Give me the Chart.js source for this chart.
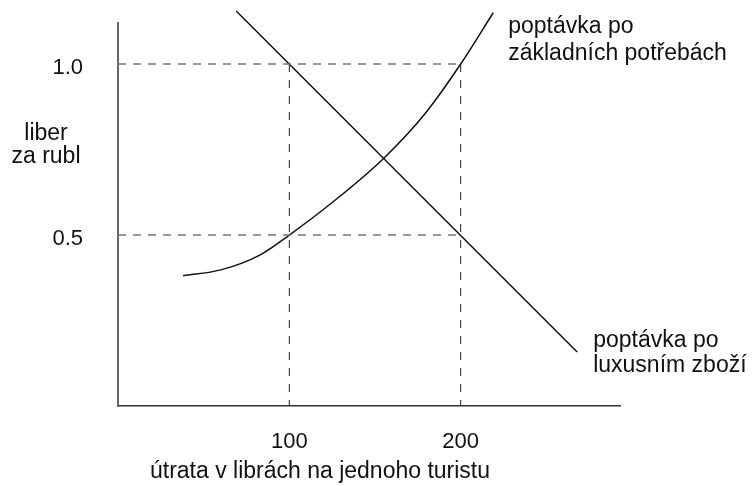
<!DOCTYPE html>
<html>
<head>
<meta charset="utf-8">
<script src="https://cdn.jsdelivr.net/npm/chart.js@4.4.0/dist/chart.umd.min.js"></script>
<style>
  body { margin: 0; background: #fff; }
  #wrap { width: 754px; height: 486px; }
</style>
</head>
<body>
<div id="wrap"><canvas id="demandChart" width="754" height="486"></canvas></div>
<script>
// axis ticks
var xTicks = [100, 200];
var yTicks = [0.5, 1.0];

// demand for luxury goods (straight line)
var luxuryX = [69, 268];
var luxuryY = [1.155, 0.158];

// demand for basic necessities (curve)
var basicX = [38, 60, 83, 100, 125, 155, 180, 200, 219];
var basicY = [0.381, 0.398, 0.442, 0.5, 0.595, 0.724, 0.86, 1.0, 1.15];

var xTitle = "útrata v librách na jednoho turistu";
var yTitle = ["liber", "za rubl"];
var basicLabel = ["poptávka po", "základních potřebách"];
var luxuryLabel = ["poptávka po", "luxusním zboží"];

var FONT = '"Liberation Sans", Arial, Helvetica, sans-serif';

function toPoints(xs, ys) {
  return xs.map(function (x, i) { return { x: x, y: ys[i] }; });
}

var lastX = xTicks[xTicks.length - 1];
var topY = yTicks[yTicks.length - 1];

var datasets = [];
// dashed guides
yTicks.forEach(function (v) {
  datasets.push({
    data: [{ x: 0, y: v }, { x: lastX, y: v }],
    borderColor: '#777', borderWidth: 1.5, borderDash: [8, 7],
    pointRadius: 0, showLine: true, tension: 0
  });
});
xTicks.forEach(function (v) {
  datasets.push({
    data: [{ x: v, y: topY }, { x: v, y: 0 }],
    borderColor: '#222', borderWidth: 1, borderDash: [8, 8],
    pointRadius: 0, showLine: true, tension: 0
  });
});
datasets.push({
  data: toPoints(luxuryX, luxuryY),
  borderColor: '#111', borderWidth: 1.5,
  pointRadius: 0, showLine: true, tension: 0, clip: false
});
datasets.push({
  data: toPoints(basicX, basicY),
  borderColor: '#111', borderWidth: 1.5,
  pointRadius: 0, showLine: true, cubicInterpolationMode: 'monotone', clip: false
});

var textPlugin = {
  id: 'texts',
  afterDraw: function (chart) {
    var ctx = chart.ctx;
    var xs = chart.scales.x, ys = chart.scales.y;
    ctx.save();
    ctx.font = '23px ' + FONT;
    ctx.fillStyle = '#111';
    ctx.textBaseline = 'alphabetic';

    // label at the end of the basic-needs curve
    ctx.textAlign = 'left';
    var bx = xs.getPixelForValue(basicX[basicX.length - 1]) + 15;
    var by = ys.getPixelForValue(basicY[basicY.length - 1]);
    ctx.fillText(basicLabel[0], bx, by + 20);
    ctx.fillText(basicLabel[1], bx, by + 47);

    // label at the end of the luxury line
    var lx = xs.getPixelForValue(luxuryX[luxuryX.length - 1]) + 16;
    var ly = ys.getPixelForValue(luxuryY[luxuryY.length - 1]);
    ctx.fillText(luxuryLabel[0], lx, ly - 5);
    ctx.fillText(luxuryLabel[1], lx, ly + 20);

    // y title
    ctx.textAlign = 'center';
    ctx.fillText(yTitle[0], 46, 140);
    ctx.fillText(yTitle[1], 46, 163);

    // x title
    ctx.fillText(xTitle, 320, 478);
    ctx.restore();
  }
};

var ctx = document.getElementById('demandChart');
var chart = new Chart(ctx, {
  type: 'scatter',
  data: { datasets: datasets },
  plugins: [textPlugin],
  options: {
    responsive: false,
    animation: false,
    devicePixelRatio: 1,
    layout: { padding: { left: 0, right: 134, top: 23, bottom: 0 } },
    plugins: { legend: { display: false }, tooltip: { enabled: false } },
    scales: {
      x: {
        type: 'linear', min: 0, max: 293,
        afterBuildTicks: function (s) { s.ticks = xTicks.map(function (v) { return { value: v }; }); },
        afterFit: function (s) { s.height = 80; s.paddingLeft = 0; s.paddingRight = 0; },
        grid: { display: false, drawTicks: false },
        border: { display: true, color: '#333', width: 1.5 },
        ticks: {
          padding: 23, color: '#111',
          font: { size: 22, family: FONT },
          callback: function (v) { return String(v); }
        }
      },
      y: {
        type: 'linear', min: 0, max: 1.12,
        afterBuildTicks: function (s) { s.ticks = yTicks.map(function (v) { return { value: v }; }); },
        afterFit: function (s) { s.width = 118; s.paddingTop = 0; s.paddingBottom = 0; },
        grid: { display: false, drawTicks: false },
        border: { display: true, color: '#666', width: 2 },
        ticks: {
          padding: 35, color: '#111', labelOffset: 4,
          font: { size: 22, family: FONT },
          callback: function (v) { return v.toFixed(1); }
        }
      }
    }
  }
});
</script>
</body>
</html>
